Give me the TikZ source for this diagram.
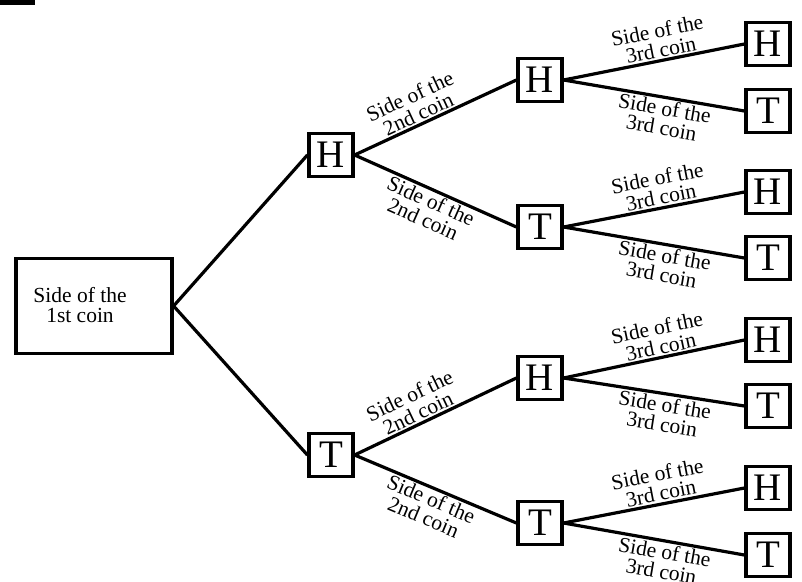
\documentclass[tikz,border=0pt]{standalone}
\usepackage{fontspec}
\setmainfont{Liberation Serif}
\begin{document}
\begin{tikzpicture}[x=1pt,y=-1pt,
  coin/.style={draw, line width=3.2pt, minimum width=44pt, minimum height=43pt,
    inner sep=0pt, font=\fontsize{39}{39}\selectfont},
  rootbox/.style={draw, line width=3.2pt, minimum width=156pt, minimum height=95pt},
  branch/.style={line width=3.2pt},
  lbl/.style={sloped, align=center, inner sep=1.5pt,
    font=\fontsize{21.5}{19.5}\selectfont}
]
\useasboundingbox (0,0) rectangle (802,581);
% heading marker at the top edge
\fill (0,0) rectangle (35,5);

% first coin
\node[rootbox] (root) at (94,306) {};
\node[align=center, font=\fontsize{21.5}{19.5}\selectfont] (rootlbl) at (80,305) {Side of the\\1st coin};

% second coin
\node[coin] (h) at (331,155) {H};
\node[coin] (t) at (331,455) {T};

% third coin
\node[coin] (hh) at (540,80) {H};
\node[coin] (ht) at (540,227) {T};
\node[coin] (th) at (540,378) {H};
\node[coin] (tt) at (540,523) {T};

% outcomes
\node[coin] (hhh) at (768,44) {H};
\node[coin] (hht) at (768,111) {T};
\node[coin] (hth) at (768,192) {H};
\node[coin] (htt) at (768,258) {T};
\node[coin] (thh) at (768,340) {H};
\node[coin] (tht) at (768,406) {T};
\node[coin] (tth) at (768,488) {H};
\node[coin] (ttt) at (768,555) {T};

% branches
\draw[branch] (root.east) -- (h.west);
\draw[branch] (root.east) -- (t.west);

\foreach \a in {h,t}{
  \draw[branch] (\a.east) -- node[lbl, above, pos=0.42] {Side of the\\2nd coin} (\a h.west);
  \draw[branch] (\a.east) -- node[lbl, below, pos=0.5] {Side of the\\2nd coin} (\a t.west);
  \foreach \b in {h,t}{
    \draw[branch] (\a\b.east) -- node[lbl, above, pos=0.55] {Side of the\\3rd coin} (\a\b h.west);
    \draw[branch] (\a\b.east) -- node[lbl, below, pos=0.57] {Side of the\\3rd coin} (\a\b t.west);
  }
}
\end{tikzpicture}
\end{document}
